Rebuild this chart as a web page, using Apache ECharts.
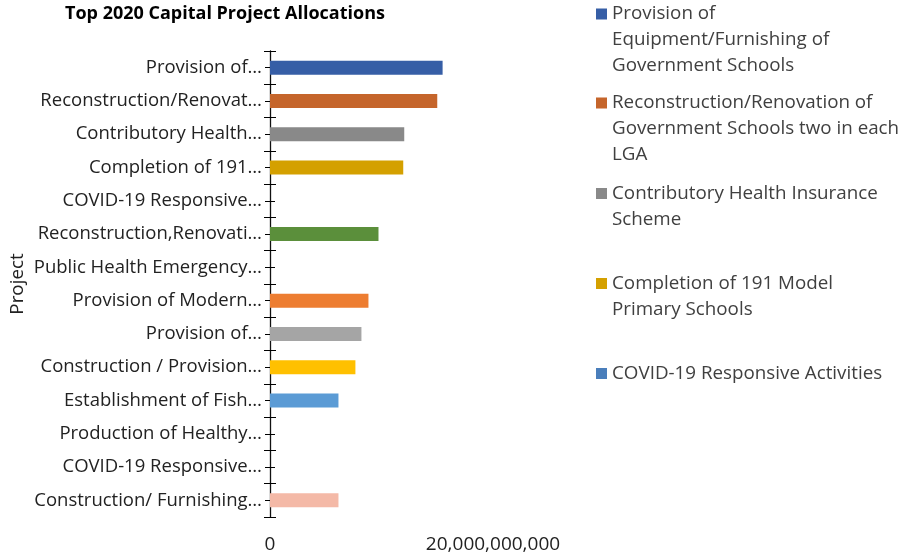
<!DOCTYPE html>
<html>
<head>
<meta charset="utf-8">
<script src="https://cdn.jsdelivr.net/npm/echarts@6/dist/echarts.min.js"></script>
<style>
	html,body{margin:0;padding:0;background:#fff}
	#chart{width:904px;height:558px}
</style>
</head>
<body>
<div id="chart"></div>
<script>
// axis labels as they show on the chart (top to bottom)
const categories = [
	'Provision of…',
	'Reconstruction/Renovat…',
	'Contributory Health…',
	'Completion of 191…',
	'COVID-19 Responsive…',
	'Reconstruction,Renovati…',
	'Public Health Emergency…',
	'Provision of Modern…',
	'Provision of…',
	'Construction / Provision…',
	'Establishment of Fish…',
	'Production of Healthy…',
	'COVID-19 Responsive…',
	'Construction/ Furnishing…'
];
// full names where the legend gives them
const projectNames = [
	'Provision of Equipment/Furnishing of Government Schools',
	'Reconstruction/Renovation of Government Schools two in each LGA',
	'Contributory Health Insurance Scheme',
	'Completion of 191 Model Primary Schools',
	'COVID-19 Responsive Activities',
	'Reconstruction,Renovati…',
	'Public Health Emergency…',
	'Provision of Modern…',
	'Provision of… ',
	'Construction / Provision…',
	'Establishment of Fish…',
	'Production of Healthy…',
	'COVID-19 Responsive… ',
	'Construction/ Furnishing…'
];
const allocations = [15480000000, 15000000000, 12040000000, 11950000000, 0, 9730000000, 0,
	8830000000, 8200000000, 7660000000, 6140000000, 0, 0, 6140000000];
const barColors = ['#365ea6', '#c5652b', '#898989', '#d4a000', '#4a7ebb', '#5b8f3b', '#264478',
	'#ed7d31', '#a5a5a5', '#ffc000', '#5b9bd5', '#70ad47', '#2e75b6', '#f4b9a7'];
const xTicks = [0, 20000000000];
// legend entries, wrapped the way the chart wraps them
const legendLines = [
	'Provision of\nEquipment/Furnishing of\nGovernment Schools',
	'Reconstruction/Renovation of\nGovernment Schools two in each\nLGA',
	'Contributory Health Insurance\nScheme',
	'Completion of 191 Model\nPrimary Schools',
	'COVID-19 Responsive Activities'
];

const font = '"Open Sans", Lato, sans-serif';
const textColor = '#404040';
const lineH = 26;
const legendTops = [1, 90, 180.5, 270.5, 360.5];

var myChart = echarts.init(document.getElementById('chart'), null, {renderer: 'canvas'});

let series = projectNames.map((name, i) => ({
	name: name,
	type: 'bar',
	stack: 'all',
	yAxisIndex: 0,
	barWidth: 14,
	itemStyle: {color: barColors[i]},
	data: allocations.map((v, j) => j === i ? v : null)
}));

let legends = legendLines.map((txt, i) => {
	let lines = txt.split('\n').length;
	let h = lines === 1 ? 11 : 11 + (lines - 1) * lineH;
	return {
		left: 596,
		top: legendTops[i],
		padding: 0,
		selectedMode: false,
		itemWidth: 11,
		itemHeight: h,
		data: [{
			name: projectNames[i],
			icon: 'path://M0,0h11v11h-11z' + (lines > 1 ? 'M0,' + (h - 0.01) + 'h0.01v0.01h-0.01z' : '')
		}],
		formatter: () => txt,
		textStyle: {fontFamily: font, fontSize: 18.8, lineHeight: lineH, color: textColor}
	};
});

// four stacked category axes: boundary ticks crossing the line, and centre ticks crossing it
function catAxis(extra){
	return Object.assign({
		type: 'category',
		data: categories,
		inverse: true,
		position: 'left',
		axisLine: {show: false},
		axisLabel: {show: false},
		splitLine: {show: false}
	}, extra);
}

let option = {
	backgroundColor: '#fff',
	animation: false,
	title: {
		text: 'Top 2020 Capital Project Allocations',
		left: 65,
		top: 5,
		padding: 0,
		textStyle: {fontFamily: font, fontSize: 18, fontWeight: 'bold', color: '#000'}
	},
	legend: legends,
	grid: {left: 270, top: 51, width: 223, height: 466},
	xAxis: {
		type: 'value',
		min: xTicks[0],
		max: xTicks[1],
		interval: xTicks[1] - xTicks[0],
		axisLine: {show: false},
		axisTick: {show: false},
		splitLine: {show: false},
		axisLabel: {
			margin: 18,
			fontFamily: font,
			fontSize: 19,
			color: '#222',
			formatter: v => v.toLocaleString('en-US')
		}
	},
	yAxis: [
		catAxis({
			name: 'Project',
			nameLocation: 'middle',
			nameRotate: 90,
			nameGap: 243,
			nameTextStyle: {fontFamily: font, fontSize: 18.8, color: '#222'},
			axisLine: {show: true, lineStyle: {color: '#111', width: 1.3}},
			axisTick: {show: true, interval: 0, length: 6, lineStyle: {color: '#000'}},
			axisLabel: {show: true, interval: 0, margin: 8, padding: [3, 0, 0, 0], fontFamily: font, fontSize: 18.5, color: '#222'}
		}),
		catAxis({axisTick: {show: true, interval: 0, inside: true, length: 6, lineStyle: {color: '#000'}}}),
		catAxis({axisTick: {show: true, interval: 0, alignWithLabel: true, length: 5, lineStyle: {color: '#000'}}}),
		catAxis({axisTick: {show: true, interval: 0, alignWithLabel: true, inside: true, length: 5, lineStyle: {color: '#000'}}})
	],
	series: series
};
myChart.setOption(option);
</script>
</body>
</html>
